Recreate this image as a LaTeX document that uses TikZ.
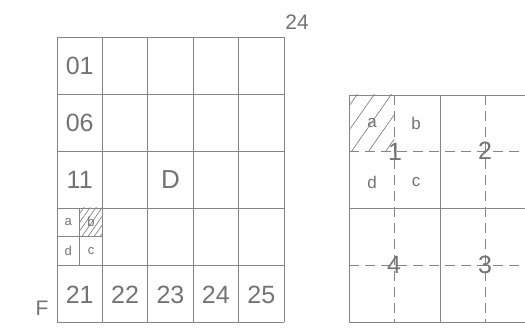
\documentclass[tikz,border=0pt]{standalone}
\usepackage{fontspec}
\setmainfont{Liberation Sans}
\usetikzlibrary{patterns.meta,positioning}

\begin{document}
\begin{tikzpicture}[
  x=1pt, y=-1pt,
  line/.style={draw=black!48, line width=0.9pt},
  dline/.style={line, dash pattern=on 10pt off 6pt},
  big/.style={text=black!55, font=\fontsize{25}{25}\selectfont, inner sep=0pt},
  mid/.style={text=black!55, font=\fontsize{17}{17}\selectfont, inner sep=0pt},
  tiny/.style={text=black!55, font=\fontsize{13}{13}\selectfont, inner sep=0pt},
  hatch/.style={pattern={Lines[angle=55,distance=#1,line width=0.6pt]}, pattern color=black!55}
]
  \useasboundingbox (0,0) rectangle (525,336);
  \clip (0,0) rectangle (525,336);

  % left sheet: 5 x 5 cells
  \fill[hatch=5pt] (79.7,208) rectangle (102.4,236.5);
  \foreach \x in {57,102.4,147.8,193.2,238.6,284}
    \draw[line] (\x,37) -- (\x,322);
  \foreach \y in {37,94,151,208,265,322}
    \draw[line] (57,\y) -- (284,\y);
  \draw[line] (79.7,208) -- (79.7,265);
  \draw[line] (57,236.5) -- (102.4,236.5);

  \node[big] (n01) at (79.7,66) {01};
  \node[big] (n06) at (79.7,123) {06};
  \node[big] (n11) at (79.7,180) {11};
  \node[big, font=\fontsize{26}{26}\selectfont] (D) at (170.5,180) {D};
  \node[tiny] (la) at (68.3,222) {a};
  \node[tiny] (lb) at (91,222) {b};
  \node[tiny] (ld) at (68.3,251) {d};
  \node[tiny] (lc) at (91,251) {c};
  \node[big] (n21) at (79.7,295) {21};
  \node[big] (n22) at (125.1,295) {22};
  \node[big] (n23) at (170.5,295) {23};
  \node[big] (n24) at (215.9,295) {24};
  \node[big] (n25) at (261.3,295) {25};
  \node[big, font=\fontsize{21}{21}\selectfont] (top) at (297,22) {24};
  \node[big, font=\fontsize{21}{21}\selectfont] (F) at (42,308) {F};

  % right sheet: one cell cut in four
  \fill[hatch=14pt] (349,95) rectangle (394,151);
  \draw[dline] (394,95) -- (394,322);
  \draw[dline] (485,95) -- (485,322);
  \draw[dline] (349,151) -- (531,151);
  \draw[dline] (349,265) -- (531,265);
  \foreach \x in {349,440,531}
    \draw[line] (\x,95) -- (\x,322);
  \foreach \y in {95,208,322}
    \draw[line] (349,\y) -- (531,\y);

  \node[big] (q1) at (395,152) {1};
  \node[big] (q2) at (485,151) {2};
  \node[big] (q4) at (394,265) {4};
  \node[big] (q3) at (485,265) {3};
  \node[mid] (ra) at (372,123) {a};
  \node[mid] (rb) at (416,123) {b};
  \node[mid] (rd) at (372,182) {d};
  \node[mid] (rc) at (416,182) {c};
\end{tikzpicture}
\end{document}
